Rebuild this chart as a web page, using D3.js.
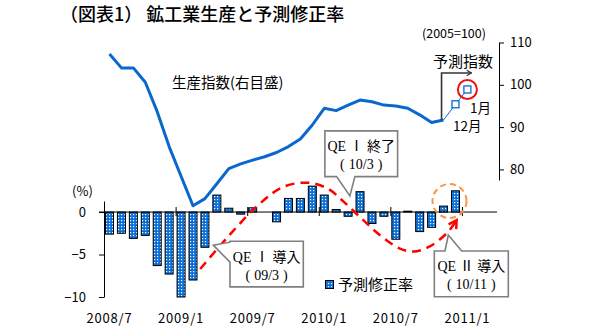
<!DOCTYPE html>
<html>
<head>
<meta charset="utf-8">
<script src="https://cdn.jsdelivr.net/npm/d3@7/dist/d3.min.js"></script>
<style>
  body { margin: 0; background: #fff; }
  svg { display: block; }
  text { font-family: "Noto Sans CJK JP", sans-serif; fill: #000; text-spacing-trim: space-all; }
  .callout text { font-family: "Liberation Serif", "Noto Sans CJK JP", serif; font-size: 14px; }
</style>
</head>
<body>
<svg id="chart" width="600" height="331"></svg>
<script>
// Month index 0 = 2008/7
const tickMonths = [0, 6, 12, 18, 24, 30];
const tickLabels = ["2008/7", "2009/1", "2009/7", "2010/1", "2010/7", "2011/1"];

// 予測修正率 (%), 2008/7 - 2010/12
const revision = [-2.6, -2.5, -3.1, -2.75, -6.3, -7.3, -10.0, -8.0, -4.15, 2.0,
                  0.45, -0.25, 0.5, 0.0, -1.15, 1.6, 1.6, 3.05, 2.0, 0.3,
                  -0.5, 2.4, -1.35, -0.5, -3.2, 0.1, -2.3, -1.8, 0.7, 2.5];

// 生産指数 (2005=100), 2008/7 - 2010/11
const production = [107.3, 104.0, 104.0, 100.6, 93.65, 85.4, 78.4, 71.4, 73.1, 76.6,
                    80.2, 81.3, 82.2, 83.0, 84.0, 85.4, 87.2, 90.5, 94.45, 93.9,
                    95.2, 96.4, 96.0, 95.2, 95.0, 94.45, 92.9, 91.1, 91.7];

// 予測指数: 2010/12 and 2011/1
const forecastMonths = [29, 30];
const forecastValues = [95.4, 98.9];
const forecastLabels = ["12月", "1月"];

// Policy cycle sketch, in (month, %) units
const cycleMonths = [7.6, 10.0, 12.45, 14.55, 16.65, 18.3, 19.6, 21.0, 22.65, 24.35, 25.5, 26.85, 28.3, 29.1];
const cycleValues = [-6.7, -2.8, 0.8, 2.95, 3.45, 2.75, 1.25, -0.6, -2.7, -4.3, -4.65, -4.05, -2.45, -0.95];

// Callouts: month / % the pointer tip sits at
const calloutHead = ["QE Ⅰ 導入", "QE Ⅰ 終了", "QE Ⅱ 導入"];
const calloutDate = ["09/3", "10/3", "10/11"];
const calloutMonths = [8.7, 20.15, 28.4];
const calloutValues = [-3.9, 1.9, -2.7];

const leftTicks = [0, -5, -10];
const rightTicks = [80, 90, 100, 110];

const svg = d3.select("#chart");

const x = d3.scaleLinear().domain([0, 30]).range([109.5, 109.5 + 11.93 * 30]);
const yL = d3.scaleLinear().domain([-10, 1.3]).range([297, 201]);
const yR = d3.scaleLinear().domain([77.5, 110]).range([180, 42.5]);

const BLUE = "#0a68cc";
const BAR_BLUE = "#0b6fd8";

// white dot grid laid over the bar fill
const defs = svg.append("defs");
const pat = defs.append("pattern").attr("id", "dots")
  .attr("width", 3).attr("height", 3).attr("patternUnits", "userSpaceOnUse");
pat.append("rect").attr("x", 1).attr("y", 1).attr("width", 1.2).attr("height", 1.2)
  .style("fill", "#ffffff");

defs.append("marker").attr("id", "redHead")
  .attr("viewBox", "0 0 10 10").attr("refX", 8).attr("refY", 5)
  .attr("markerWidth", 4.5).attr("markerHeight", 4.5)
  .attr("orient", "auto").attr("markerUnits", "strokeWidth")
  .append("path").attr("d", "M1,1 L8,5 L1,9").attr("fill", "none")
  .attr("stroke", "#ff0000").attr("stroke-width", 2.2);

defs.append("marker").attr("id", "blackHead")
  .attr("viewBox", "0 0 10 10").attr("refX", 9).attr("refY", 5)
  .attr("markerWidth", 7).attr("markerHeight", 7)
  .attr("orient", "auto").attr("markerUnits", "userSpaceOnUse")
  .append("path").attr("d", "M2,1 L9,5 L2,9").attr("fill", "none")
  .attr("stroke", "#333").attr("stroke-width", 1.6);

// title
svg.append("text").attr("x", 60).attr("y", 21)
  .style("font-size", "18px").style("font-weight", 500)
  .text("（図表1） 鉱工業生産と予測修正率");

// left axis
const axL = svg.append("g").attr("transform", `translate(${x(0) - 5.5},0)`)
  .call(d3.axisLeft(yL).tickValues(leftTicks).tickSize(5).tickSizeOuter(0).tickPadding(13)
    .tickFormat(d => d === 0 ? "0" : "\u2212" + Math.abs(d)));
axL.selectAll("path, line").attr("stroke", "#000");
axL.selectAll("text").style("font-size", "13px").style("font-family", "Noto Sans CJK JP");

svg.append("text").attr("x", 82.5).attr("y", 196).attr("text-anchor", "middle")
  .style("font-size", "13px").text("(%)");

// right axis
const axR = svg.append("g").attr("transform", "translate(499,0)")
  .call(d3.axisRight(yR).tickValues(rightTicks).tickSize(5).tickSizeOuter(0).tickPadding(6));
axR.selectAll("path, line").attr("stroke", "#000");
axR.selectAll("text").style("font-size", "13px").style("font-family", "Noto Sans CJK JP");

svg.append("text").attr("x", 454).attr("y", 38).attr("text-anchor", "middle")
  .style("font-size", "12.5px").text("(2005=100)");

// bars: solid blue, dot grid, black outline
const barX = (d, i) => x(i) - 4;
const barY = d => yL(Math.max(0, d));
const barH = d => Math.abs(yL(d) - yL(0));
const bars = svg.append("g");
bars.selectAll("rect.base").data(revision).join("rect").attr("class", "base")
  .attr("x", barX).attr("width", 8).attr("y", barY).attr("height", barH)
  .style("fill", BAR_BLUE);
bars.selectAll("rect.dots").data(revision).join("rect").attr("class", "dots")
  .attr("x", barX).attr("width", 8).attr("y", barY).attr("height", barH)
  .style("fill", "url(#dots)")
  .attr("stroke", "#000").attr("stroke-width", 1);

// zero line and half-year ticks
svg.append("line").attr("x1", x(0) - 10.5).attr("x2", 497)
  .attr("y1", yL(0)).attr("y2", yL(0)).attr("stroke", "#000");
svg.append("g").selectAll("line").data(tickMonths.slice(1)).join("line")
  .attr("x1", d => x(d - 0.5) + 1).attr("x2", d => x(d - 0.5) + 1)
  .attr("y1", yL(0) - 5).attr("y2", yL(0) + 4).attr("stroke", "#000");

// month labels
svg.append("g").selectAll("text").data(tickMonths).join("text")
  .attr("x", d => x(d)).attr("y", 323).attr("text-anchor", "middle")
  .style("font-size", "13px").style("letter-spacing", "0.8px")
  .text((d, i) => tickLabels[i]);

// production index line
svg.append("path").datum(production)
  .attr("d", d3.line().x((d, i) => x(i)).y(d => yR(d)))
  .attr("fill", "none").attr("stroke", BLUE).attr("stroke-width", 3)
  .attr("stroke-linejoin", "round");

svg.append("text").attr("x", 172).attr("y", 88).style("font-size", "14.5px")
  .text("生産指数(右目盛)");

// forecast segment
const lastIdx = production.length - 1;
const fPts = [[lastIdx, production[lastIdx]]].concat(forecastMonths.map((m, i) => [m, forecastValues[i]]));
svg.append("path").datum(fPts)
  .attr("d", d3.line().x(d => x(d[0])).y(d => yR(d[1])))
  .attr("fill", "none").attr("stroke", BLUE).attr("stroke-width", 1);
svg.append("g").selectAll("rect").data(forecastMonths).join("rect")
  .attr("x", d => x(d) - 3.5).attr("y", (d, i) => yR(forecastValues[i]) - 3.5)
  .attr("width", 7).attr("height", 7)
  .attr("fill", "#fff").attr("stroke", BLUE).attr("stroke-width", 1.3);

svg.append("circle").attr("cx", x(30)).attr("cy", yR(98.9)).attr("r", 9.5)
  .attr("fill", "none").attr("stroke", "#ee1111").attr("stroke-width", 2);

svg.append("text").attr("x", 453).attr("y", 131).style("font-size", "13.5px").text(forecastLabels[0]);
svg.append("text").attr("x", 470).attr("y", 112.5).style("font-size", "13.5px").text(forecastLabels[1]);

// 予測指数 arrow
svg.append("path")
  .attr("d", `M${x(lastIdx) - 2},${yR(production[lastIdx])} V${yR(102.8)} H${x(30.35)}`)
  .attr("fill", "none").attr("stroke", "#333").attr("stroke-width", 1.6)
  .attr("marker-end", "url(#blackHead)");
svg.append("text").attr("x", 433).attr("y", 67).style("font-size", "15px").text("予測指数");

// policy cycle (red dashed)
svg.append("path").datum(cycleMonths.map((m, i) => [m, cycleValues[i]]))
  .attr("d", d3.line().x(d => x(d[0])).y(d => yL(d[1])).curve(d3.curveCatmullRom))
  .attr("fill", "none").attr("stroke", "#ff0000").attr("stroke-width", 2.5)
  .attr("stroke-dasharray", "9,6")
  .attr("marker-end", "url(#redHead)");

// orange dashed ring round the latest bars
svg.append("circle").attr("cx", x(28.5)).attr("cy", yL(1.3)).attr("r", 17)
  .attr("fill", "none").attr("stroke", "#f79646").attr("stroke-width", 2)
  .attr("stroke-dasharray", "6,4");

// legend
svg.append("rect").attr("x", 325.5).attr("y", 280.5).attr("width", 8).attr("height", 8)
  .style("fill", BAR_BLUE);
svg.append("rect").attr("x", 325.5).attr("y", 280.5).attr("width", 8).attr("height", 8)
  .style("fill", "url(#dots)").attr("stroke", "#000");
svg.append("text").attr("x", 338).attr("y", 290).style("font-size", "15px").text("予測修正率");

// callouts
function calloutPath(b, tip, side, p1, p2) {
  const l = b.x, t = b.y, r = b.x + b.w, btm = b.y + b.h;
  let pts;
  if (side === "left") pts = [[l, t], [r, t], [r, btm], [l, btm], [l, p2], tip, [l, p1]];
  else if (side === "bottom") pts = [[l, t], [r, t], [r, btm], [p2, btm], tip, [p1, btm], [l, btm]];
  else pts = [[l, t], [p1, t], tip, [p2, t], [r, t], [r, btm], [l, btm]];
  return "M" + pts.map(p => p.join(",")).join("L") + "Z";
}
const layouts = [
  { dx: 16.7, dy: -4, w: 73.3, h: 45.7, side: "left", p1: 1, p2: 21 },
  { dx: -25, dy: -65, w: 72.7, h: 45.7, side: "bottom", p1: 11.7, p2: 30 },
  { dx: -14, dy: 16, w: 74, h: 45.7, side: "top", p1: 10.7, p2: 27.4 }
];
calloutHead.forEach((head, k) => {
  const tip = [x(calloutMonths[k]), yL(calloutValues[k])];
  const L = layouts[k];
  const b = { x: tip[0] + L.dx, y: tip[1] + L.dy, w: L.w, h: L.h };
  const p1 = L.side === "left" ? b.y + L.p1 : b.x + L.p1;
  const p2 = L.side === "left" ? b.y + L.p2 : b.x + L.p2;
  const g = svg.append("g").attr("class", "callout");
  g.append("path").attr("d", calloutPath(b, tip, L.side, p1, p2))
    .attr("fill", "#fff").attr("stroke", "#7f7f7f").attr("stroke-width", 1.6);
  const cx = b.x + b.w / 2;
  const t = g.append("text").attr("text-anchor", "middle");
  t.append("tspan").attr("x", cx).attr("y", b.y + 20.5).text(head);
  const line2 = t.append("tspan").attr("x", cx).attr("dy", 18);
  line2.append("tspan").text("(");
  line2.append("tspan").attr("dx", 4).text(calloutDate[k]);
  line2.append("tspan").attr("dx", 4).text(")");
});
</script>
</body>
</html>
